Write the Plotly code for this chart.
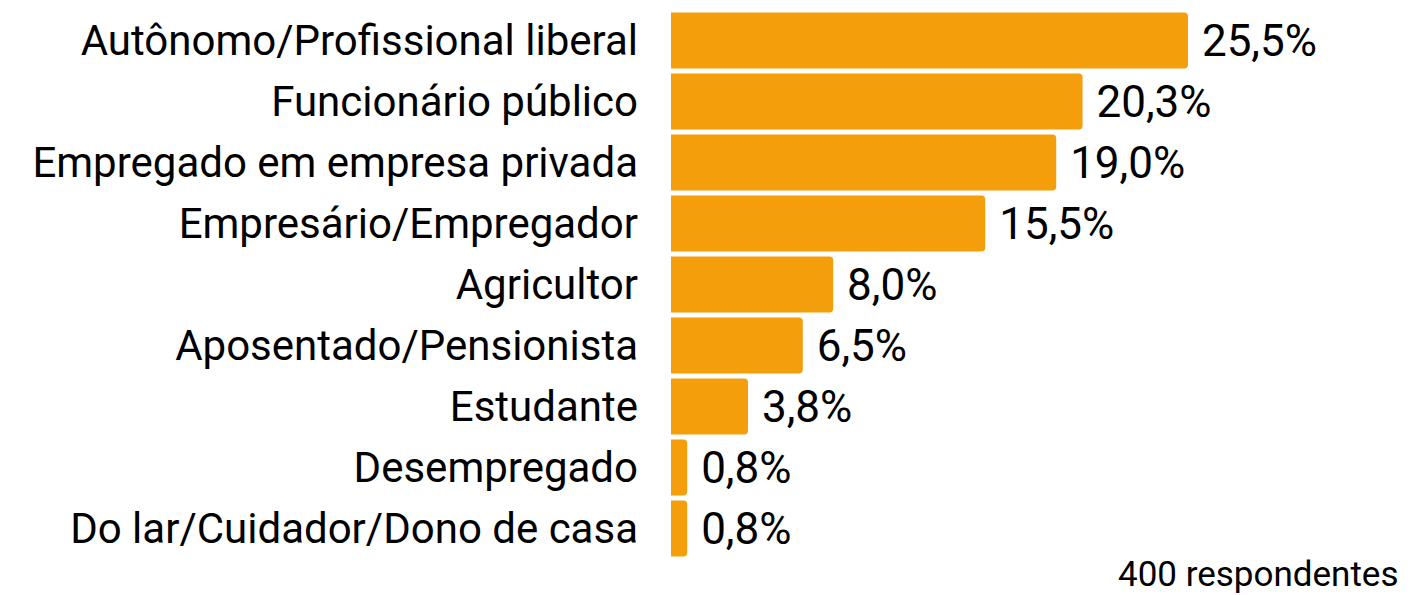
import plotly.graph_objects as go

categories = [
    "Autônomo/Profissional liberal",
    "Funcionário público",
    "Empregado em empresa privada",
    "Empresário/Empregador",
    "Agricultor",
    "Aposentado/Pensionista",
    "Estudante",
    "Desempregado",
    "Do lar/Cuidador/Dono de casa",
]
values = [25.5, 20.3, 19.0, 15.5, 8.0, 6.5, 3.8, 0.8, 0.8]
value_labels = ["25,5%", "20,3%", "19,0%", "15,5%", "8,0%", "6,5%", "3,8%", "0,8%", "0,8%"]
note = "400 respondentes"

FONT = "Roboto"
BAR_COLOR = "#F59E0B"

fig = go.Figure(
    go.Bar(
        x=values,
        y=categories,
        orientation="h",
        marker=dict(color=BAR_COLOR, line=dict(width=0)),
        text=["\u00a0" + t for t in value_labels],
        textposition="outside",
        textfont=dict(family=FONT, size=44, color="#000000"),
        constraintext="none",
        cliponaxis=False,
        hoverinfo="skip",
    )
)

fig.update_layout(
    width=1403,
    height=587,
    margin=dict(l=663, r=0, t=2, b=36),
    paper_bgcolor="white",
    plot_bgcolor="white",
    bargap=0.08,
    barcornerradius=4,
    showlegend=False,
    font=dict(family=FONT, color="#000000"),
    xaxis=dict(range=[0, 36.5], visible=False, fixedrange=True),
    yaxis=dict(
        autorange="reversed",
        showgrid=False,
        showline=False,
        zeroline=False,
        ticks="",
        ticklabelstandoff=32,
        tickfont=dict(family=FONT, size=42, color="#000000"),
    ),
    annotations=[
        dict(
            text=note,
            xref="paper",
            yref="paper",
            x=1,
            y=0,
            xanchor="right",
            yanchor="top",
            xshift=-10,
            yshift=7,
            showarrow=False,
            font=dict(family=FONT, size=35, color="#000000"),
        )
    ],
)

fig.write_html("out.html")
